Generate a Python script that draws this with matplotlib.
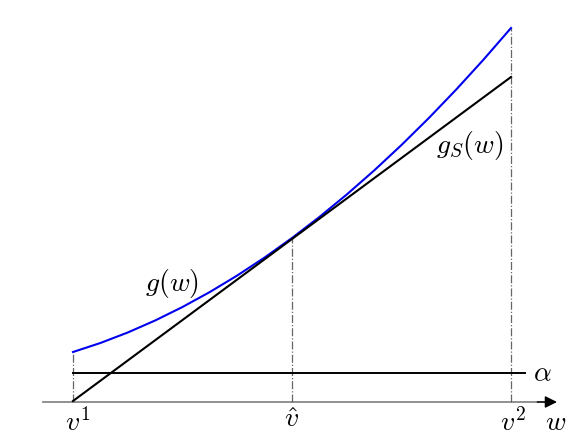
import numpy as np
import matplotlib
matplotlib.use('Agg')
import matplotlib.pyplot as plt

plt.rcParams['mathtext.fontset'] = 'cm'

# values (w on the x axis, v1=1, v_hat=2, v2=3)
w_pts = [1.0, 1.125, 1.25, 1.375, 1.5, 1.625, 1.75, 1.875, 2.0,
         2.125, 2.25, 2.375, 2.5, 2.625, 2.75, 2.875, 3.0]
g_pts = [0.500, 0.590, 0.695, 0.815, 0.950, 1.100, 1.265, 1.445, 1.640,
         1.850, 2.075, 2.315, 2.570, 2.840, 3.125, 3.425, 3.740]
gs_w = [1.0, 3.0]
gs_pts = [0.01, 3.25]
alpha_level = 0.29
alpha_end = 3.064
v_marks = [1.0, 2.0, 3.0]
v_labels = [r'$v^1$', r'$\hat{v}$', r'$v^2$']
v_tops = [0.50, 1.64, 3.74]

fig = plt.figure(figsize=(5.84, 4.38), dpi=100)
ax = fig.add_axes([0, 0, 1, 1])
ax.set_xlim(1 - 73 / 219, 1 + 511 / 219)
ax.set_ylim(-0.36, 4.02)
ax.axis('off')

# w axis
ax.plot([0.863, 3.17], [0, 0], color='#888888', lw=1.3, zorder=1)
ax.annotate('', xy=(3.21, 0), xytext=(3.12, 0),
            arrowprops=dict(arrowstyle='-|>', color='black', lw=1.0,
                            mutation_scale=18, shrinkA=0, shrinkB=0))

# vertical guide lines
for x, top in zip(v_marks, v_tops):
    ax.plot([x, x], [0, top], color='#666666', lw=0.9, ls='-.', zorder=2)

ax.plot([v_marks[0], alpha_end], [alpha_level, alpha_level], color='black', lw=1.4, zorder=3)
ax.plot(w_pts, g_pts, color='#0000ee', lw=1.5, zorder=4)
ax.plot(gs_w, gs_pts, color='black', lw=1.5, zorder=5)

fs = 20
ax.text(1.452, 1.18, r'$g(w)$', fontsize=fs, ha='center', va='center')
ax.text(2.813, 2.57, r'$g_S(w)$', fontsize=fs, ha='center', va='center')
ax.text(3.142, 0.29, r'$\alpha$', fontsize=fs, ha='center', va='center')
ax.text(3.205, -0.20, r'$w$', fontsize=fs, ha='center', va='center')
ax.text(1.02, -0.21, v_labels[0], fontsize=fs, ha='center', va='center')
ax.text(2.0, -0.17, v_labels[1], fontsize=fs, ha='center', va='center')
ax.text(3.01, -0.21, v_labels[2], fontsize=fs, ha='center', va='center')

fig.savefig('out.png', dpi=100)
